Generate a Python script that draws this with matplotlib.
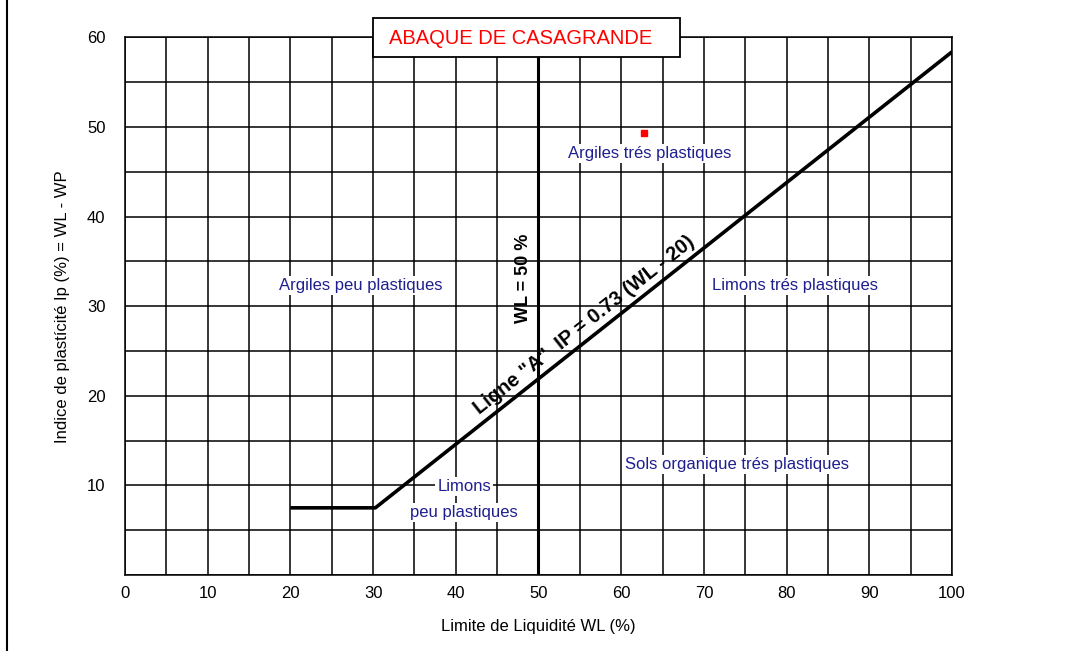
import numpy as np
import matplotlib
matplotlib.use("Agg")
import matplotlib.pyplot as plt
from matplotlib.patches import Rectangle
from matplotlib.lines import Line2D

plt.rcParams['font.family'] = ['Liberation Sans', 'DejaVu Sans']

# Ligne A : IP = 0.73 (WL - 20), palier horizontal à gauche
a_slope = 0.73
a_offset = 20
a_floor = 7.5
a_start = 20
wl_limit = 50

# point mesuré
point_wl = [62.8]
point_ip = [49.3]

x_ticks = list(range(0, 101, 10))
y_ticks = list(range(10, 61, 10))
grid_step = 5

# zones du diagramme : (texte, WL, IP)
zones = [
    ("Argiles trés plastiques", 63.5, 47.0),
    ("Argiles peu plastiques", 28.5, 32.3),
    ("Limons trés plastiques", 81.0, 32.3),
    ("Sols organique trés plastiques", 74.0, 12.3),
    ("Limons", 41.0, 9.9),
    ("peu plastiques", 41.0, 7.0),
]

fig = plt.figure(figsize=(10.8, 6.51), dpi=100)
ax = fig.add_axes([0.1157, 0.1167, 0.7658, 0.8257])
ax.set_xlim(0, 100)
ax.set_ylim(0, 60)

ax.set_xticks(x_ticks)
ax.set_yticks(y_ticks)
ax.set_xticks(np.arange(0, 101, grid_step), minor=True)
ax.set_yticks(np.arange(0, 61, grid_step), minor=True)
ax.tick_params(which='both', length=0)
ax.tick_params(axis='x', labelsize=12, pad=8)
ax.tick_params(axis='y', labelsize=12, pad=14)
ax.grid(which='both', color='black', lw=1.1)
for s in ax.spines.values():
    s.set_linewidth(1.1)

# ligne A
wl_knee = a_offset + a_floor / a_slope
wl = np.array([a_start, wl_knee, 100])
ip = np.where(wl <= wl_knee, a_floor, a_slope * (wl - a_offset))
ax.plot(wl, ip, color='black', lw=2.6, zorder=4, solid_capstyle='butt')

# limite WL = 50 %
ax.axvline(wl_limit, color='black', lw=2.2, zorder=4)

ax.plot(point_wl, point_ip, 's', color='red', ms=4, zorder=5)

for txt, x, y in zones:
    ax.text(x, y, txt, color='#1f1f8f', fontsize=12, ha='center', va='center',
            zorder=6, bbox=dict(facecolor='white', edgecolor='none', pad=1.5))

# angle de la ligne A à l'écran
p1 = ax.transData.transform((40, a_slope * 20))
p2 = ax.transData.transform((90, a_slope * 70))
angle = np.degrees(np.arctan2(p2[1] - p1[1], p2[0] - p1[0]))
x_lab = 56.3
ax.text(x_lab, a_slope * (x_lab - a_offset) + 0.6, 'Ligne "A"  IP = 0.73 (WL - 20)',
        rotation=angle, rotation_mode='anchor', ha='center', va='bottom',
        fontsize=14.5, fontweight='bold', fontstretch='condensed', zorder=6)
ax.text(48.2, 33.1, "WL = 50 %", rotation=90, ha='center', va='center',
        fontsize=13, fontweight='bold', zorder=6)

ax.set_xlabel("Limite de Liquidité WL (%)", fontsize=12, labelpad=13)
ax.set_ylabel("Indice de plastícité Ip (%) = WL - WP", fontsize=12, labelpad=12)

# cartouche du titre
fig.add_artist(Rectangle((373 / 1080, 1 - 57 / 651), 307 / 1080, 39 / 651,
                         transform=fig.transFigure, facecolor='white',
                         edgecolor='black', lw=1.3, zorder=10))
fig.text(521 / 1080, 1 - 38 / 651, "ABAQUE DE CASAGRANDE", color='red',
         fontsize=14.5, ha='center', va='center', zorder=11)

fig.add_artist(Line2D([7 / 1080, 7 / 1080], [0, 1], transform=fig.transFigure,
                      color='black', lw=1.5))

fig.savefig("out.png", dpi=100)
